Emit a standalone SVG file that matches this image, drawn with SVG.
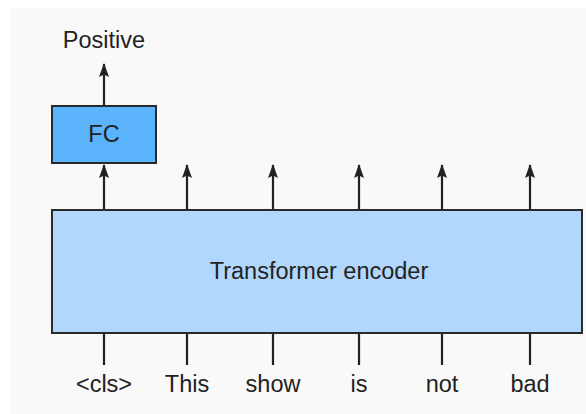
<svg xmlns="http://www.w3.org/2000/svg" width="586" height="414" viewBox="0 0 586 414">
<style>
  text { font-family: "Liberation Sans", Arial, sans-serif; font-size: 23.5px; fill: #222; text-anchor: middle; }
  .box { stroke: #2a2a2a; stroke-width: 2; }
  .ln { stroke: #222; stroke-width: 2.2; fill: none; }
</style>
<defs>
  <marker id="ah" viewBox="0 0 14 10" refX="13" refY="5" markerWidth="14" markerHeight="10" markerUnits="userSpaceOnUse" orient="auto">
    <path d="M0 0 L14 5 L0 10 L2.5 5 Z" fill="#222"/>
  </marker>
</defs>
<rect x="10" y="8" width="580" height="410" fill="#f9f9f9"/>
<g id="encoder">
  <rect class="box" x="52" y="210" width="530" height="123" fill="#b1d8fc"/>
  <text x="319" y="279">Transformer encoder</text>
</g>
<g id="fc">
  <rect class="box" x="52" y="106" width="104" height="57" fill="#5bb4fb"/>
  <text x="104" y="142">FC</text>
</g>
<g id="output">
  <text x="104" y="48">Positive</text>
</g>
<g id="tokens">
  <text x="104" y="392">&lt;cls&gt;</text>
  <text x="187" y="392">This</text>
  <text x="273" y="392">show</text>
  <text x="359" y="392">is</text>
  <text x="442" y="392">not</text>
  <text x="530" y="392">bad</text>
</g>
<g id="connectors">
  <line class="ln" x1="104" y1="106" x2="104" y2="64" marker-end="url(#ah)"/>
  <line class="ln" x1="104" y1="209" x2="104" y2="165" marker-end="url(#ah)"/>
  <line class="ln" x1="187" y1="209" x2="187" y2="165" marker-end="url(#ah)"/>
  <line class="ln" x1="273" y1="209" x2="273" y2="165" marker-end="url(#ah)"/>
  <line class="ln" x1="359" y1="209" x2="359" y2="165" marker-end="url(#ah)"/>
  <line class="ln" x1="442" y1="209" x2="442" y2="165" marker-end="url(#ah)"/>
  <line class="ln" x1="530" y1="209" x2="530" y2="165" marker-end="url(#ah)"/>
  <line class="ln" x1="104" y1="334" x2="104" y2="365"/>
  <line class="ln" x1="187" y1="334" x2="187" y2="365"/>
  <line class="ln" x1="273" y1="334" x2="273" y2="365"/>
  <line class="ln" x1="359" y1="334" x2="359" y2="365"/>
  <line class="ln" x1="442" y1="334" x2="442" y2="365"/>
  <line class="ln" x1="530" y1="334" x2="530" y2="365"/>
</g>
</svg>
